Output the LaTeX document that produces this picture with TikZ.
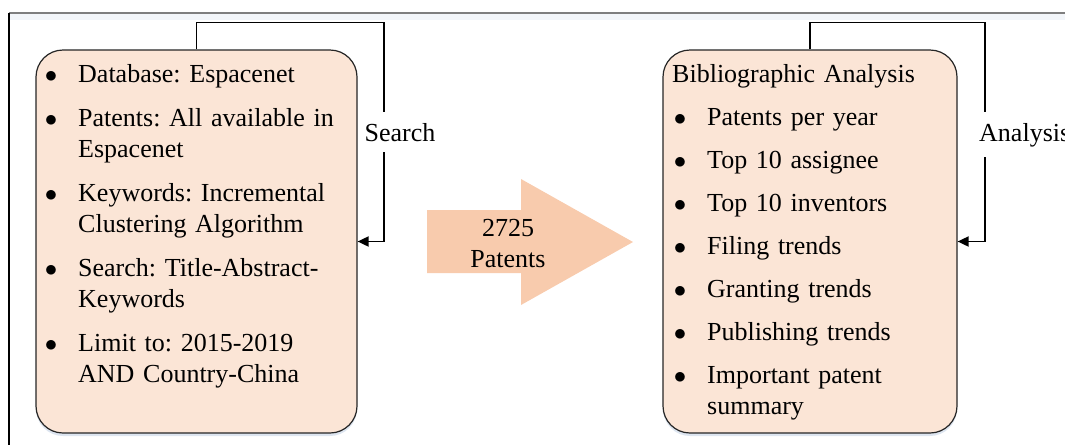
\documentclass[tikz,border=0pt]{standalone}
\usepackage{fontspec}
\setmainfont{Liberation Serif}
\usetikzlibrary{arrows.meta,positioning,shadows}

\definecolor{boxfill}{HTML}{FBE5D6}
\definecolor{arrowfill}{HTML}{F8CBAD}
\definecolor{framegray}{HTML}{7F7F7F}
\definecolor{bandblue}{HTML}{F3F6FA}
\definecolor{shadowblue}{HTML}{D5DFEC}

\newcommand{\bigtext}{\fontsize{26}{31}\selectfont\frenchspacing}
\newenvironment{stepitems}[2]{\begin{list}{$\bullet$}{%
  \setlength\leftmargin{#1}\setlength\labelwidth{14pt}\setlength\labelsep{21pt}%
  \setlength\itemsep{#2}\setlength\parsep{0pt}\setlength\topsep{0pt}%
  \setlength\partopsep{0pt}\setlength\itemindent{0pt}}}{\end{list}}

\begin{document}
\begin{tikzpicture}[x=1pt,y=-1pt,
  stepbox/.style={draw=black!85, line width=1.2pt, fill=boxfill, rounded corners=27pt,
    minimum height=383pt, drop shadow={shadow xshift=0pt, shadow yshift=-3pt, fill=shadowblue, opacity=0.8}},
  itemtext/.style={anchor=north west, inner sep=0pt, text width=320pt, align=left, font=\bigtext},
  loopline/.style={line width=1.8pt, -{Triangle[length=11pt,width=10pt]}},
  looplabel/.style={fill=white, inner xsep=1pt, inner ysep=10.5pt, font=\bigtext}]
% Set the page size
\def\loopgap{27}
\useasboundingbox (0,0) rectangle (1065,445);

% Draw the frame
\fill[bandblue] (10,14) rectangle (1065,20);
\draw[framegray, line width=1.3pt] (9,13) -- (1065,13);
\draw[black, line width=1.2pt] (9,13) -- (9,445);

% Draw the two boxes
\node[stepbox, minimum width=321pt] (searchbox) at (196.5,241.5) {};
\node[stepbox, minimum width=294pt] (analysisbox) at (810,241.5) {};

% Insert the search steps
\node[itemtext] (searchtext) at (36,51) {\parskip=0pt
  \begin{stepitems}{42pt}{13pt}
  \item \strut Database: Espacenet
  \item Patents: All available in\newline Espacenet
  \item Keywords: Incremental\newline Clustering Algorithm
  \item Search: Title-Abstract-\newline Keywords
  \item Limit to: 2015-2019\newline AND Country-China
  \end{stepitems}};

% Insert the analysis steps
\node[itemtext] (analysistext) at (672,60.3) {\parskip=0pt
  \strut Bibliographic Analysis\par\vspace{12pt}
  \begin{stepitems}{35pt}{12pt}
  \item Patents per year
  \item Top 10 assignee
  \item Top 10 inventors
  \item Filing trends
  \item Granting trends
  \item Publishing trends
  \item Important patent\newline summary
  \end{stepitems}};

% Draw the big arrow and its count
\fill[arrowfill] (427,210) -- (521,210) -- (521,179) -- (633,242) -- (521,305) -- (521,273) -- (427,273) -- cycle;
\node[align=center, inner sep=0pt, font=\bigtext] (patentcount) at (508,244) {2725\\Patents};

% Draw the feedback loops
\coordinate (searchturn) at ([xshift=26.5pt]searchbox.east);
\coordinate (analysisturn) at ([xshift=27pt]analysisbox.east);
\draw[loopline] (searchbox.north) -- ++(0,-\loopgap) -| (searchturn) -- (searchbox.east);
\draw[loopline] (analysisbox.north) -- ++(0,-\loopgap) -| (analysisturn) -- (analysisbox.east);
\node[looplabel, anchor=base] (searchlabel) at (400,141) {Search};
\node[looplabel, anchor=base west] (analysislabel) at (978,141) {Analysis};
\end{tikzpicture}
\end{document}
